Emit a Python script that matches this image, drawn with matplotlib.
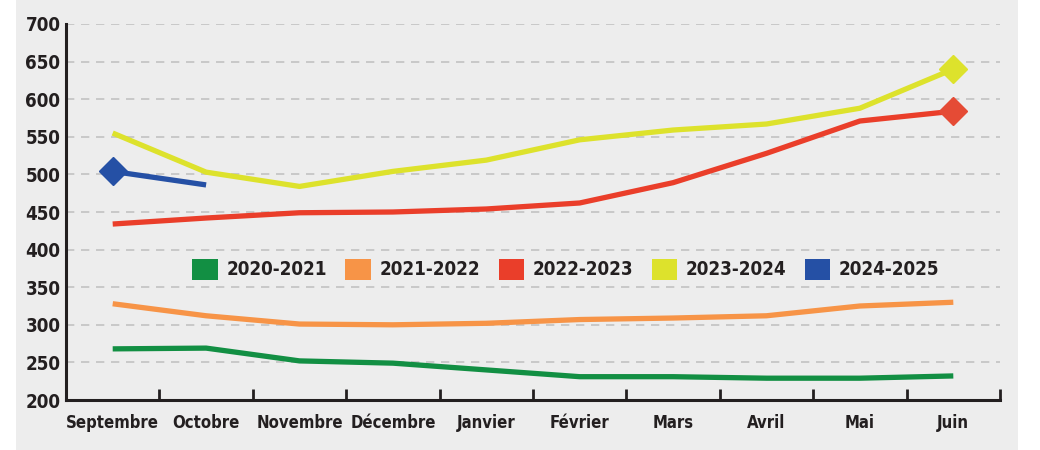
import matplotlib.pyplot as plt
import numpy as np
from matplotlib.patches import Patch, Rectangle

plt.rcParams['font.family'] = ['DejaVu Sans']
plt.rcParams['font.stretch'] = 'condensed'

mois = ['Septembre', 'Octobre', 'Novembre', 'Décembre', 'Janvier',
        'Février', 'Mars', 'Avril', 'Mai', 'Juin']
s2020 = [268, 269, 252, 249, 240, 231, 231, 229, 229, 232]
s2021 = [328, 312, 301, 300, 302, 307, 309, 312, 325, 330]
s2022 = [434, 442, 449, 450, 454, 462, 489, 528, 571, 584]
s2023 = [555, 503, 484, 504, 519, 546, 559, 567, 588, 640]
s2024 = [504, 486]
saisons = ['2020-2021', '2021-2022', '2022-2023', '2023-2024', '2024-2025']
couleurs = ['#128f43', '#f79447', '#ea3e2a', '#dde22c', '#2550a5']

texte = '#231f20'
fond = '#ededed'

fig = plt.figure(figsize=(10.4, 4.5), dpi=100, facecolor='white')
# fond gris derriere le graphique
fig.patches.append(Rectangle((16/1040, 0), 1002/1040, 1, transform=fig.transFigure,
                             facecolor=fond, edgecolor='none', zorder=-10))
ax = fig.add_axes([66/1040, 50/450, 934/1040, 376/450])
ax.set_facecolor(fond)

x = np.arange(len(mois))
for serie, c in zip([s2020, s2021, s2022, s2023], couleurs[:4]):
    ax.plot(x, serie, color=c, lw=3.8, solid_capstyle='butt', zorder=3)
ax.plot(x[:2], s2024, color=couleurs[4], lw=3.8, solid_capstyle='butt', zorder=3)

# losanges aux extremites
ax.plot(x[-1], s2022[-1], 'D', color='#e54b35', ms=14, zorder=4)
ax.plot(x[-1], s2023[-1], 'D', color=couleurs[3], ms=14, zorder=4)
ax.plot(x[0], s2024[0], 'D', color=couleurs[4], ms=14, zorder=4)

ax.set_xlim(-0.5, len(mois) - 0.5)
ax.set_ylim(200, 700)
ax.set_yticks(np.arange(200, 701, 50))
ax.set_xticks(x)
ax.set_xticklabels(mois)
ax.set_xticks(np.arange(0.5, len(mois), 1), minor=True)
ax.tick_params(axis='x', which='major', length=0, pad=10, labelsize=12, labelcolor=texte)
ax.tick_params(axis='x', which='minor', direction='in', length=8, width=2, color=texte)
ax.tick_params(axis='y', length=0, pad=4, labelsize=13.5, labelcolor=texte)
for lab in ax.get_xticklabels() + ax.get_yticklabels():
    lab.set_fontweight('bold')
    lab.set_fontstretch('condensed')

for v in np.arange(250, 701, 50):
    ax.axhline(v, color='#c2c2c2', lw=1.2, ls=(0, (5, 4)), zorder=1)

ax.spines[['right', 'top']].set_visible(False)
ax.spines[['left', 'bottom']].set_linewidth(2.2)
ax.spines[['left', 'bottom']].set_color(texte)

handles = [Patch(facecolor=c, edgecolor='none') for c in couleurs]
leg = ax.legend(handles, saisons, ncol=5, loc='center', bbox_to_anchor=(0.535, 0.348),
                frameon=False, handlelength=1.35, handleheight=1.35, handletextpad=0.45,
                columnspacing=1.0,
                prop={'weight': 'bold', 'size': 13.5, 'stretch': 'condensed'})
for t in leg.get_texts():
    t.set_color(texte)

plt.savefig('out.png', dpi=100, facecolor='white')
